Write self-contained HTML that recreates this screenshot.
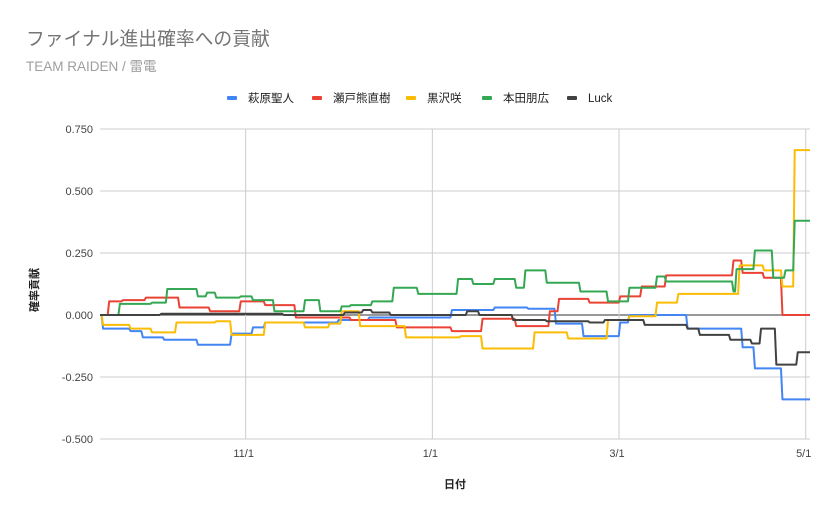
<!DOCTYPE html>
<html><head><meta charset="utf-8"><style>
body{margin:0;background:#fff;}
svg{display:block;font-family:"Liberation Sans","Noto Sans CJK JP",sans-serif;}
</style></head><body>
<svg id="chart" width="837" height="518" viewBox="0 0 837 518">
<rect width="837" height="518" fill="#fff"/>
<text x="26" y="45" font-size="18.8" fill="#757575">ファイナル進出確率への貢献</text>
<text x="26" y="71" font-size="13.5" fill="#9e9e9e">TEAM RAIDEN / 雷電</text>
<g id="legend"></g>
<g id="grid"></g>
<g id="series"></g>
<text transform="translate(38,290) rotate(-90)" text-anchor="middle" font-size="11" font-weight="bold" fill="#222">確率貢献</text>
<text x="455" y="488" text-anchor="middle" font-size="11" font-weight="bold" fill="#222">日付</text>
</svg>
<script>
const seriesNames=["萩原聖人","瀬戸熊直樹","黒沢咲","本田朋広","Luck"];
const seriesColors=["#4285f4","#ea4335","#fbbc04","#34a853","#424242"];
const yTicks=[0.75,0.5,0.25,0,-0.25,-0.5];
const yTickLabels=["0.750","0.500","0.250","0.000","-0.250","-0.500"];
const xTickDays=[47.6,108.6,169.6,230.6];
const xTickLabels=["11/1","1/1","3/1","5/1"];
const hagiwara=[[0,0],[1,-0.055],[10,-0.065],[14,-0.09],[21,-0.1],[32,-0.12],[43,-0.075],[50,-0.05],[54,-0.03],[70,-0.03],[78,-0.02],[88,-0.01],[115,0.02],[129,0.03],[140,0.025],[149,-0.035],[158,-0.085],[170,-0.03],[173,0],[192,-0.055],[210,-0.13],[214,-0.215],[223,-0.34],[232,-0.34]];
const setokuma=[[0,0],[3,0.055],[7.5,0.06],[15,0.07],[26,0.03],[36,0.015],[46,0.055],[54,0.04],[64,-0.01],[82,-0.02],[97,-0.05],[115,-0.065],[125,-0.015],[136,-0.045],[147,0.015],[150,0.065],[160,0.05],[164,0.05],[170,0.075],[177,0.115],[185,0.16],[207,0.22],[210,0.17],[217,0.15],[223,0],[232,0]];
const kurosawa=[[0,0],[1,-0.04],[10,-0.055],[17,-0.07],[25,-0.03],[38,-0.025],[43,-0.08],[54,-0.03],[67,-0.05],[75,-0.035],[79,0.015],[85,-0.045],[100,-0.09],[118,-0.085],[125,-0.135],[142,-0.07],[153,-0.095],[166,-0.02],[173,-0.005],[182,0.05],[189,0.085],[209,0.2],[217,0.18],[223,0.115],[227,0.665],[232,0.665]];
const honda=[[0,0],[6.5,0.045],[17,0.05],[22,0.105],[32,0.075],[35,0.09],[38,0.07],[46,0.075],[50,0.06],[57,0.015],[67,0.06],[72,0.015],[79,0.035],[82,0.04],[89,0.055],[96,0.11],[104,0.085],[117,0.145],[122,0.125],[129,0.145],[136,0.11],[139,0.18],[146,0.13],[157,0.095],[166,0.055],[173,0.11],[182,0.155],[185,0.135],[207,0.095],[208,0.185],[214,0.26],[220,0.15],[224,0.18],[227,0.38],[232,0.38]];
const luck=[[0,0],[20,0.005],[60,0],[80,0.01],[86,0.02],[89,0.01],[95,0],[120,0.015],[124,0],[135,-0.02],[146,-0.025],[160,-0.03],[165,-0.02],[178,-0.04],[192,-0.055],[196,-0.08],[206,-0.1],[213,-0.115],[216,-0.055],[221,-0.2],[228,-0.15],[232,-0.15]];
const allSeries=[hagiwara,setokuma,kurosawa,honda,luck];
const X0=100,X1=810,DAYS=232,Y0=315,YPX=248;
const xs=d=>X0+d*(X1-X0)/DAYS;
const ys=v=>Y0-v*YPX;
const NS="http://www.w3.org/2000/svg";
function mk(tag,attrs,parent){const e=document.createElementNS(NS,tag);for(const k in attrs)e.setAttribute(k,attrs[k]);parent.appendChild(e);return e;}
const grid=document.getElementById('grid');
yTicks.forEach((v,i)=>{
  const l=mk('line',{x1:X0,x2:X1,y1:ys(v),y2:ys(v),stroke:v===0?'#333':'#ccc','stroke-width':1},grid);
  
  
  const t=mk('text',{x:93,y:ys(v)+4,'text-anchor':'end','font-size':11,fill:'#444'},grid);
  t.textContent=yTickLabels[i];
  
  
});
xTickDays.forEach((d,i)=>{
  const l=mk('line',{x1:xs(d),x2:xs(d),y1:ys(0.75),y2:ys(-0.5),stroke:'#ccc','stroke-width':1},grid);
  
  
  const t=mk('text',{x:xs(d)-2,y:457,'text-anchor':'middle','font-size':11,fill:'#444'},grid);
  t.textContent=xTickLabels[i];
  
  
});
const sg=document.getElementById('series');
allSeries.forEach((s,i)=>{
  let d='M'+xs(s[0][0])+','+ys(s[0][1]);
  for(let k=1;k<s.length;k++){
    const xa=xs(s[k][0]);
    d+=' L'+(xa-1.5)+','+ys(s[k-1][1])+' L'+xa+','+ys(s[k][1]);
  }
  const p=mk('path',{d:d,fill:'none',stroke:seriesColors[i],'stroke-width':2,'stroke-linejoin':'round'},sg);
  
  
});
const lg=document.getElementById('legend');
const legX=[227,312,406,482,567];
seriesNames.forEach((n,i)=>{
  const r=mk('rect',{x:legX[i],y:96,width:10,height:4,rx:1,fill:seriesColors[i]},lg);
  
  
  const t=mk('text',{x:legX[i]+21,y:102,'font-size':11.5,fill:'#222'},lg);
  t.textContent=n;
  
  
});
</script>
</body></html>
